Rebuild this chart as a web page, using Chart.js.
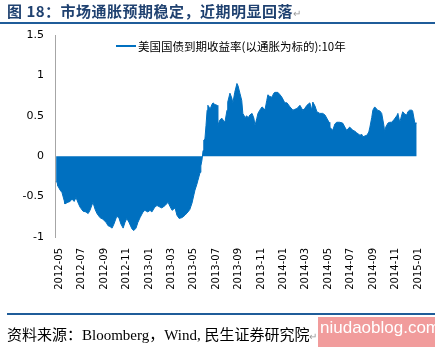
<!DOCTYPE html>
<html>
<head>
<meta charset="utf-8">
<script src="https://cdn.jsdelivr.net/npm/chart.js@4/dist/chart.umd.min.js"></script>
<style>
  html, body { margin: 0; padding: 0; background: #fff; }
  #wrap { position: relative; width: 435px; height: 347px; overflow: hidden; background: #fff; }
  #wrap canvas { position: absolute; left: 0; top: 0; }
  .abs { position: absolute; white-space: nowrap; }
  #title { left: 7px; top: 2px; font: bold 15px "Noto Sans CJK SC", sans-serif; letter-spacing: 0.5px; line-height: 18px; color: #1F4170; }
  #rule1 { left: 0; top: 22px; width: 435px; height: 2px; background: #1F5C99; }
  #rule2 { left: 7px; top: 313px; width: 428px; height: 1.5px; background: #1F5C99; }
  #legline { left: 116px; top: 45px; width: 20px; height: 2px; background: #0070C0; }
  #legtext { left: 138px; top: 39px; font: 11.5px "Noto Sans CJK SC", sans-serif; line-height: 14px; color: #000; }
  #source { left: 7px; top: 326px; font: 15px "Liberation Serif", "Noto Sans CJK SC", serif; line-height: 18px; color: #000; }
  #wm { left: 318px; top: 317px; width: 117px; height: 30px; background: #F19C9C; }
  #wmtext { left: 320px; top: 318px; font: 17px "Liberation Sans", sans-serif; line-height: 20px; color: #fff; }
  .pm { color: #999; font-size: 10px; font-weight: normal; }
</style>
</head>
<body>
<div id="wrap">
  <canvas id="c" width="435" height="347"></canvas>
  <div class="abs" id="title">图 18：市场通胀预期稳定，近期明显回落<span class="pm">↵</span></div>
  <div class="abs" id="rule1"></div>
  <div class="abs" id="legline"></div>
  <div class="abs" id="legtext">美国国债到期收益率(以通胀为标的):10年</div>
  <div class="abs" id="rule2"></div>
  <div class="abs" id="wm"></div>
  <div class="abs" id="source">资料来源：Bloomberg，Wind, 民生证券研究院<span class="pm">↵</span></div>
  <div class="abs" id="wmtext">niudaoblog.com</div>
</div>
<script>
const seriesName = "美国国债到期收益率(以通胀为标的):10年";

const dates = [
  "2012-04-23","2012-04-26","2012-04-28","2012-05-04","2012-05-09","2012-05-15","2012-05-17","2012-05-25","2012-05-31","2012-06-05",
  "2012-06-11","2012-06-16","2012-06-22","2012-06-27","2012-07-05","2012-07-13","2012-07-19","2012-07-24","2012-08-01","2012-08-07",
  "2012-08-12","2012-08-20","2012-08-28","2012-09-06","2012-09-11","2012-09-16","2012-09-22","2012-09-27","2012-10-05","2012-10-11",
  "2012-10-16","2012-10-22","2012-10-27","2012-11-01","2012-11-07","2012-11-15","2012-11-20","2012-11-26","2012-12-01","2012-12-07",
  "2012-12-15","2012-12-20","2012-12-28","2013-01-03","2013-01-08","2013-01-16","2013-01-22","2013-01-30","2013-02-04","2013-02-13",
  "2013-02-21","2013-02-26","2013-03-04","2013-03-12","2013-03-17","2013-03-23","2013-03-31","2013-04-08","2013-04-16","2013-04-21",
  "2013-04-27","2013-05-02","2013-05-05","2013-05-10","2013-05-13","2013-05-19","2013-05-21","2013-05-24","2013-05-27","2013-05-29",
  "2013-06-01","2013-06-04","2013-06-07","2013-06-09","2013-06-12","2013-06-15","2013-06-20","2013-06-23","2013-06-28","2013-07-04",
  "2013-07-06","2013-07-12","2013-07-17","2013-07-23","2013-07-25","2013-07-31","2013-08-02","2013-08-08","2013-08-13","2013-08-16",
  "2013-08-21","2013-08-27","2013-08-30","2013-09-04","2013-09-09","2013-09-12","2013-09-18","2013-09-23","2013-09-26","2013-10-01",
  "2013-10-07","2013-10-12","2013-10-15","2013-10-20","2013-10-23","2013-10-28","2013-11-03","2013-11-08","2013-11-11","2013-11-16",
  "2013-11-19","2013-11-24","2013-11-30","2013-12-05","2013-12-08","2013-12-16","2013-12-22","2013-12-27","2014-01-04","2014-01-10",
  "2014-01-18","2014-01-26","2014-01-31","2014-02-06","2014-02-14","2014-02-19","2014-02-22","2014-02-27","2014-03-05","2014-03-13",
  "2014-03-18","2014-03-21","2014-03-27","2014-04-01","2014-04-09","2014-04-17","2014-04-23","2014-04-28","2014-05-04","2014-05-06",
  "2014-05-14","2014-05-20","2014-05-25","2014-06-02","2014-06-10","2014-06-16","2014-06-21","2014-06-29","2014-07-08","2014-07-13",
  "2014-07-18","2014-07-27","2014-08-01","2014-08-04","2014-08-09","2014-08-15","2014-08-20","2014-08-23","2014-08-28","2014-08-31",
  "2014-09-05","2014-09-11","2014-09-13","2014-09-19","2014-09-24","2014-09-30","2014-10-02","2014-10-05","2014-10-11","2014-10-16",
  "2014-10-21","2014-10-27","2014-10-30","2014-11-04","2014-11-07","2014-11-12","2014-11-15","2014-11-20","2014-11-26","2014-12-01",
  "2014-12-04","2014-12-09","2014-12-15","2014-12-17","2014-12-23","2014-12-28"
];

const values = [
  -0.31,-0.33,-0.37,-0.42,-0.45,-0.55,-0.59,-0.57,-0.56,-0.53,
  -0.56,-0.51,-0.58,-0.63,-0.68,-0.69,-0.71,-0.67,-0.57,-0.66,
  -0.71,-0.76,-0.78,-0.82,-0.86,-0.87,-0.89,-0.84,-0.74,-0.77,
  -0.84,-0.89,-0.82,-0.77,-0.82,-0.90,-0.92,-0.89,-0.82,-0.76,
  -0.69,-0.67,-0.69,-0.67,-0.69,-0.63,-0.61,-0.63,-0.64,-0.61,
  -0.57,-0.62,-0.67,-0.64,-0.73,-0.77,-0.76,-0.73,-0.69,-0.66,
  -0.58,-0.48,-0.42,-0.35,-0.30,-0.20,-0.12,-0.05,0.07,0.20,
  0.21,0.38,0.57,0.63,0.61,0.58,0.64,0.66,0.64,0.63,
  0.38,0.45,0.47,0.43,0.41,0.57,0.67,0.78,0.72,0.66,
  0.79,0.90,0.87,0.78,0.69,0.53,0.48,0.50,0.47,0.51,
  0.53,0.47,0.38,0.47,0.53,0.57,0.61,0.59,0.57,0.69,
  0.76,0.74,0.73,0.78,0.79,0.79,0.76,0.73,0.66,0.66,
  0.61,0.57,0.58,0.59,0.63,0.59,0.57,0.59,0.63,0.66,
  0.57,0.67,0.62,0.55,0.53,0.53,0.51,0.47,0.42,0.36,
  0.32,0.40,0.42,0.42,0.41,0.36,0.32,0.36,0.32,0.31,
  0.29,0.26,0.27,0.24,0.25,0.26,0.30,0.36,0.48,0.57,
  0.61,0.58,0.57,0.56,0.53,0.38,0.30,0.36,0.41,0.42,
  0.42,0.45,0.47,0.50,0.53,0.42,0.47,0.55,0.52,0.51,
  0.55,0.57,0.57,0.56,0.41,0.41
];

const tickLabels = ["2012-05","2012-07","2012-09","2012-11","2013-01","2013-03","2013-05","2013-07","2013-09",
  "2013-11","2014-01","2014-03","2014-05","2014-07","2014-09","2014-11","2015-01"];

const yTicks = [-1, -0.5, 0, 0.5, 1, 1.5];

const ORIGIN = Date.UTC(2012, 4, 1);
function dayOffset(s) {
  const p = s.split("-").map(Number);
  return (Date.UTC(p[0], p[1] - 1, p[2] || 1) - ORIGIN) / 86400000;
}

const points = dates.map((d, i) => ({ x: dayOffset(d), y: values[i] }));
const tickPos = tickLabels.map(dayOffset);

new Chart(document.getElementById("c"), {
  type: "line",
  data: {
    datasets: [{
      label: seriesName,
      data: points,
      fill: "origin",
      backgroundColor: "#0070C0",
      borderColor: "#0070C0",
      borderWidth: 1,
      pointRadius: 0,
      tension: 0
    }]
  },
  options: {
    responsive: false,
    animation: false,
    devicePixelRatio: 1,
    layout: { padding: { left: 0, top: 35, right: 15, bottom: 0 } },
    plugins: { legend: { display: false }, tooltip: { enabled: false } },
    scales: {
      x: {
        type: "linear",
        min: -11,
        max: 980,
        afterBuildTicks: (scale) => { scale.ticks = tickPos.map(v => ({ value: v })); },
        afterFit: (scale) => { scale.height = 110; },
        grid: { display: false },
        border: { display: false },
        ticks: {
          autoSkip: false,
          maxRotation: 90,
          minRotation: 90,
          color: "#000",
          font: { family: "DejaVu Sans", size: 10 },
          callback: (v, i) => tickLabels[i]
        }
      },
      y: {
        min: yTicks[0],
        max: yTicks[yTicks.length - 1],
        afterBuildTicks: (scale) => { scale.ticks = yTicks.map(v => ({ value: v })); },
        afterFit: (scale) => { scale.width = 55; },
        grid: { display: false },
        border: { display: true, color: "#A6A6A6", width: 1 },
        ticks: {
          color: "#000",
          font: { family: "DejaVu Sans", size: 11 },
          callback: (v) => String(v)
        }
      }
    }
  }
});
</script>
</body>
</html>
